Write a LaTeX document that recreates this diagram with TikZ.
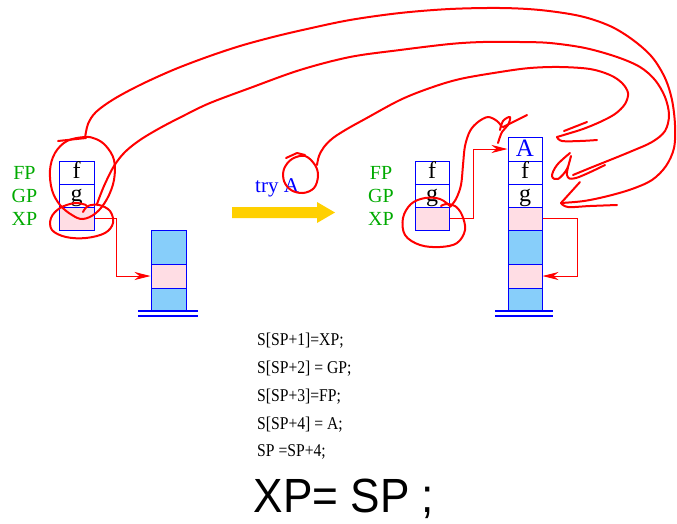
\documentclass[tikz,border=0pt]{standalone}
\usepackage{fontspec}
\setmainfont{Liberation Serif}
\newfontfamily\handfont{Liberation Sans}
\usetikzlibrary{arrows.meta}
\definecolor{cellpink}{RGB}{255,221,228}
\definecolor{cellblue}{RGB}{135,206,250}
\definecolor{lblgreen}{RGB}{0,170,0}
\definecolor{arrowgold}{RGB}{255,208,0}
\definecolor{inkred}{RGB}{255,0,0}
\newcommand{\codetext}[1]{\scalebox{0.87}[1]{#1}}
\begin{document}
\begin{tikzpicture}[x=1pt,y=-1pt,
  cell/.style={draw=blue, line width=1pt, minimum width=35pt, minimum height=23pt, inner sep=0pt,
    text height=16pt, text depth=5pt, font=\fontsize{24}{24}\selectfont},
  pinkcell/.style={cell, fill=cellpink},
  bluecell/.style={cell, fill=cellblue},
  lbl/.style={text=lblgreen, inner sep=0pt, font=\fontsize{20}{20}\selectfont},
  code/.style={anchor=west, inner sep=0pt, text height=13pt, text depth=4pt, font=\fontsize{18}{18}\selectfont},
  conn/.style={draw=inkred, line width=0.8pt, -{Stealth[length=16pt,width=8pt,inset=5pt]}},
  ink/.style={draw=inkred, line width=2pt, line cap=round, line join=round},
  base/.style={draw=blue, line width=1.3pt}
]
\useasboundingbox (0,0) rectangle (677,523);

% ---------- left small stack ----------
\node[cell, fill=white] (lf) at (76.5,172.5) {f};
\node[cell, fill=white] (lg) at (76.5,195.5) {g};
\node[pinkcell] (lxp) at (76.5,218.5) {};
\node[lbl] (lFP) at (24.5,172.5) {FP};
\node[lbl] (lGP) at (24.5,195.5) {GP};
\node[lbl] (lXP) at (24.5,218.5) {XP};

% ---------- left bottom stack ----------
\node[bluecell, minimum height=34pt] (lb1) at (168.5,247) {};
\node[pinkcell, minimum height=24pt] (lb2) at (168.5,276) {};
\node[bluecell, minimum height=22pt] (lb3) at (168.5,299) {};
\coordinate (lbaseA) at (138,311);
\coordinate (lbaseB) at (198,311);
\coordinate (lbaseC) at (138,316);
\coordinate (lbaseD) at (198,316);
\draw[base] (lbaseA) -- (lbaseB);
\draw[base] (lbaseC) -- (lbaseD);

\draw[conn] (lxp.east) -- ++(22,0) |- (lb2.west);

% ---------- middle ----------
\node[anchor=base west, inner sep=0pt, text=blue, font=\fontsize{21}{21}\selectfont] (try) at (255,192) {try A};
\fill[arrowgold] (232,207) -- (317,207) -- (317,202) -- (335,212.5) -- (317,223) -- (317,218) -- (232,218) -- cycle;

% ---------- right small stack ----------
\node[cell, fill=white, minimum width=34pt] (rf) at (432,172.5) {f};
\node[cell, fill=white, minimum width=34pt] (rg) at (432,195.5) {g};
\node[pinkcell, minimum width=34pt] (rxp) at (432,218.5) {};
\node[lbl] (rFP) at (381,172.5) {FP};
\node[lbl] (rGP) at (381,195.5) {GP};
\node[lbl] (rXP) at (381,218.5) {XP};

% ---------- right big stack ----------
\node[cell, fill=white, minimum width=34pt, minimum height=24pt, text=blue, text height=17pt, text depth=3pt, font=\fontsize{25}{25}\selectfont] (bA) at (525,149) {A};
\node[cell, fill=white, minimum width=34pt] (bf) at (525,172.5) {f};
\node[cell, fill=white, minimum width=34pt] (bg) at (525,195.5) {g};
\node[pinkcell, minimum width=34pt] (bxp) at (525,218.5) {};
\node[bluecell, minimum width=34pt, minimum height=34pt] (bb1) at (525,247) {};
\node[pinkcell, minimum width=34pt, minimum height=24pt] (bp2) at (525,276) {};
\node[bluecell, minimum width=34pt, minimum height=22pt] (bb3) at (525,299) {};
\coordinate (rbaseA) at (495,311);
\coordinate (rbaseB) at (553,311);
\coordinate (rbaseC) at (495,316);
\coordinate (rbaseD) at (553,316);
\draw[base] (rbaseA) -- (rbaseB);
\draw[base] (rbaseC) -- (rbaseD);

\draw[conn] (rxp.east) -- ++(24,0) |- (bA.west);
\draw[conn] (bxp.east) -- ++(35,0) |- (bp2.east);

% ---------- code ----------
\node[code] (c1) at (257,341) {\codetext{S[SP+1]=XP;}};
\node[code] (c2) at (257,369) {\codetext{S[SP+2] = GP;}};
\node[code] (c3) at (257,397) {\codetext{S[SP+3]=FP;}};
\node[code] (c4) at (257,425) {\codetext{S[SP+4] = A;}};
\node[code] (c5) at (257,452) {\codetext{SP =SP+4;}};
\node[anchor=base, inner sep=0pt, font=\handfont\fontsize{48}{48}\selectfont] (hw) at (344,512) {\scalebox{0.92}[1]{XP= SP ;}};

% ---------- red handwriting ----------
% left f/g circle
\draw[ink] plot[smooth cycle, tension=0.6] coordinates {(85,137) (67,141) (55,153) (50,170) (52,190) (60,205) (72,215) (83,219) (96,213) (107,199) (114,180) (114,160) (106,146) (96,139)};
\draw[ink] (58,141) -- (86,138);
% left XP circle
\draw[ink] plot[smooth, tension=0.6] coordinates {(83,212) (88,206) (99,205) (110,211) (113,223) (105,233) (86,238) (66,237) (52,230) (51,218) (60,208) (75,203) (86,205)};
% curve A (outer)
\draw[ink] plot[smooth, tension=0.55] coordinates {(85,138) (88,124) (96,112) (114,99) (140,85) (173,70) (207,57) (240,46) (273,37) (307,29) (350,20) (400,13) (450,9) (500,8) (540,10) (580,16) (610,26) (633,40) (652,57) (665,78) (672,100) (675,125) (674,148) (666,166) (652,180) (632,189) (608,196) (584,201) (561,203)};
\draw[ink] (580,182) -- (561,203);
\draw[ink] plot[smooth, tension=0.6] coordinates {(561,203) (568,207) (590,206) (617,205)};
% curve B (middle)
\draw[ink] plot[smooth, tension=0.55] coordinates {(97,204) (104,186) (114,166) (125,152) (140,140) (160,128) (185,115) (210,103) (250,88) (300,70) (350,57) (400,50) (450,44) (483,42) (520,42) (550,43) (585,48) (617,57) (640,67) (655,80) (665,97) (669,115) (665,131) (652,142) (632,151) (610,160) (590,168) (573,175)};
\draw[ink] plot[smooth, tension=0.6] coordinates {(570,153) (557,165) (552,176) (558,179) (567,169) (571,156) (567,175) (576,178) (605,165)};
% curve C (inner) from try A
\draw[ink] plot[smooth cycle, tension=0.6] coordinates {(305,156) (292,159) (284,169) (284,181) (291,190) (303,193) (314,188) (318,176) (315,165)};
\draw[ink] (286,158) -- (297,153) -- (305,155);
\draw[ink] plot[smooth, tension=0.55] coordinates {(317,165) (319,156) (324,147) (333,138) (347,129) (365,119) (400,100) (430,88) (460,79) (500,72) (530,68) (560,67) (590,69) (610,75) (622,83) (628,93) (625,104) (615,114) (600,122) (583,129) (567,134) (557,137)};
\draw[ink] plot[smooth, tension=0.6] coordinates {(557,137) (562,141) (580,141) (597,140)};
\draw[ink] (587,122) -- (564,131);
% right XP circle and stroke to A
\draw[ink] plot[smooth, tension=0.6] coordinates {(450,206) (440,199) (425,198) (411,204) (403,218) (405,235) (420,245) (440,247) (457,243) (465,230) (462,215) (455,206) (446,204) (441,206)};
\draw[ink] plot[smooth, tension=0.55] coordinates {(450,207) (456,199) (461,185) (463,165) (465,146) (470,131) (478,122) (488,117) (497,121) (502,127)};
\draw[ink] plot[smooth, tension=0.6] coordinates {(500,130) (503,121) (510,117) (508,125) (502,132) (498,143)};
\draw[ink] (503,127) -- (527,115);
\end{tikzpicture}
\end{document}
